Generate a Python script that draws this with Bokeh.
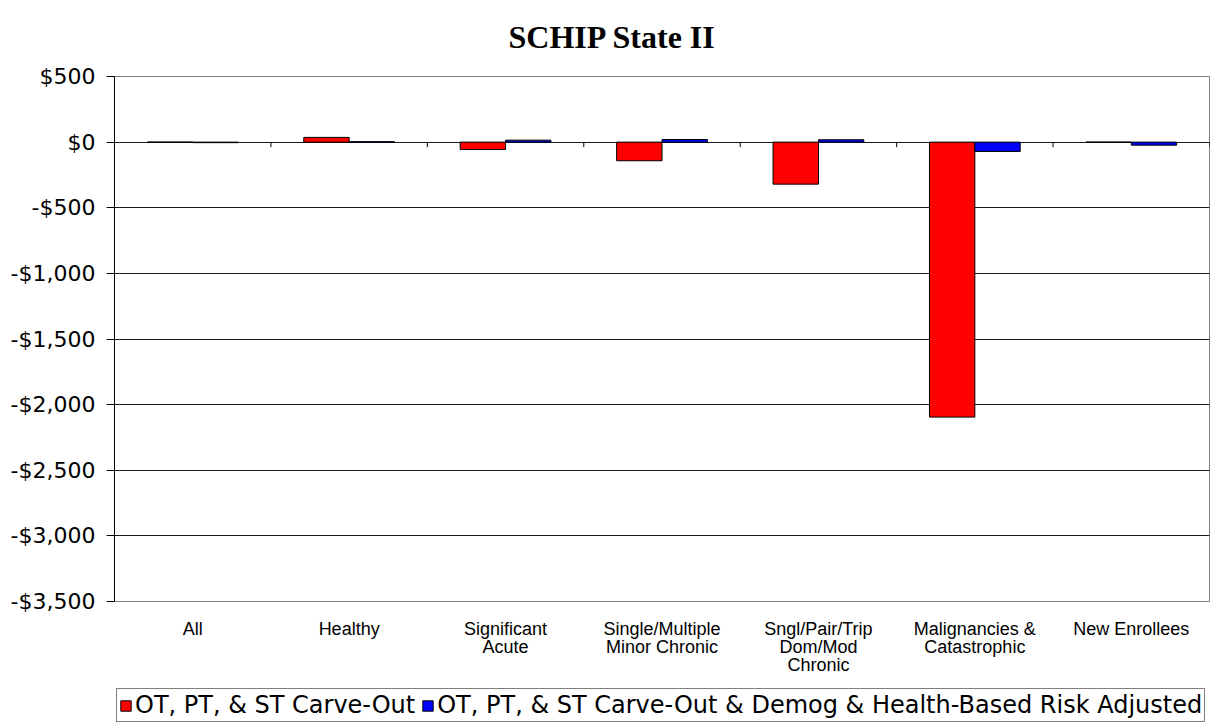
from bokeh.plotting import figure
from bokeh.layouts import column
from bokeh.core.properties import value
from bokeh.models import (Range1d, FixedTicker, Legend, LegendItem, ColumnDataSource)
from bokeh.transform import dodge
from bokeh.embed import file_html
from bokeh.resources import INLINE

# ---- data ----
categories = ["All", "Healthy", "Significant\nAcute", "Single/Multiple\nMinor Chronic",
              "Sngl/Pair/Trip\nDom/Mod\nChronic", "Malignancies &\nCatastrophic", "New Enrollees"]
carve_out = [0, 36, -56, -142, -320, -2095, 0]
risk_adjusted = [-4, 3, 15, 20, 18, -71, -23]
series_names = ["OT, PT, & ST Carve-Out",
                "OT, PT, & ST Carve-Out & Demog & Health-Based Risk Adjusted"]
y_ticks = [500, 0, -500, -1000, -1500, -2000, -2500, -3000, -3500]
y_tick_labels = ["$500", "$0", "-$500", "-$1,000", "-$1,500", "-$2,000",
                 "-$2,500", "-$3,000", "-$3,500"]
title_text = "SCHIP State II"

RED, BLUE = "#FF0000", "#0000FF"
W = 1210
HEAD_H, LEG_H = 58, 39
MB_L, MB_R, MB_T, MB_B = 114, 1, 18, 85
FRAME_H = 525
H = MB_T + FRAME_H + MB_B
n = len(categories)
centers = [i + 0.5 for i in range(n)]
src = ColumnDataSource(dict(x=centers, a=carve_out, b=risk_adjusted))

# ---- header strip with the title ----
p0 = figure(width=W, height=HEAD_H, x_range=Range1d(0, W - MB_L - MB_R),
            y_range=Range1d(0, HEAD_H), output_backend="svg", toolbar_location=None,
            x_axis_location=None, y_axis_location=None,
            min_border=0, outline_line_color=None)
p0.grid.visible = False
title_center_px = 612 - MB_L
p0.text(x=[title_center_px], y=[HEAD_H - 36], text=[title_text],
        text_font=value("Liberation Serif"), text_font_style="bold",
        text_font_size="32px", text_align="center", text_baseline="alphabetic",
        text_color="black")

# ---- main chart ----
ymin, ymax = min(y_ticks), max(y_ticks)
p = figure(width=W, height=H, x_range=Range1d(0, n),
           y_range=Range1d(ymin, ymax),
           output_backend="svg", toolbar_location=None,
           min_border_left=MB_L, min_border_right=MB_R, min_border_top=MB_T,
           min_border_bottom=MB_B)

p.ygrid.ticker = FixedTicker(ticks=y_ticks)
p.ygrid.grid_line_color = "#1a1a1a"
p.xgrid.grid_line_color = None
p.outline_line_color = "#808080"

bw = 0.29
p.vbar(x=dodge("x", -bw / 2), top="a", bottom=0, width=bw,
       source=src, fill_color=RED, line_color="black", line_width=1)
p.vbar(x=dodge("x", bw / 2), top="b", bottom=0, width=bw,
       source=src, fill_color=BLUE, line_color="black", line_width=1)

# category-axis ticks at y = 0, between categories, pointing down
tick_len = 5 * (ymax - ymin) / FRAME_H
bounds = list(range(n + 1))
p.segment(x0=bounds, x1=bounds, y0=[0] * len(bounds), y1=[-tick_len] * len(bounds),
          line_color="black", line_width=1)

# y axis
yax = p.yaxis[0]
yax.ticker = FixedTicker(ticks=y_ticks)
yax.major_label_overrides = {t: l for t, l in zip(y_ticks, y_tick_labels)}
yax.major_tick_out = 8
yax.major_tick_in = 0
yax.minor_tick_line_color = None
yax.axis_line_color = "black"
yax.major_tick_line_color = "black"
yax.major_label_text_font = "DejaVu Sans"
yax.major_label_text_font_size = "22px"
yax.major_label_text_color = "black"
yax.major_label_standoff = 11

# category labels at the bottom
xax = p.xaxis[0]
xax.ticker = FixedTicker(ticks=centers)
xax.major_label_overrides = {c: l for c, l in zip(centers, categories)}
xax.axis_line_color = None
xax.major_tick_line_color = None
xax.minor_tick_line_color = None
xax.major_label_text_font = "Liberation Sans"
xax.major_label_text_font_size = "18px"
xax.major_label_text_line_height = 0.9
xax.major_label_text_color = "black"
xax.major_label_standoff = 11

# ---- legend strip below the chart ----
p2 = figure(width=W, height=LEG_H, x_range=Range1d(0, 1), y_range=Range1d(0, 1),
            output_backend="svg", toolbar_location=None,
            x_axis_location=None, y_axis_location=None,
            min_border=0, outline_line_color=None)
p2.grid.visible = False
offscreen = ColumnDataSource(dict(x=[-5.0], top=[0.0]))
l1 = p2.vbar(x="x", top="top", width=0.1, source=offscreen,
             fill_color=RED, line_color="black", line_width=1)
l2 = p2.vbar(x="x", top="top", width=0.1, source=offscreen,
             fill_color=BLUE, line_color="black", line_width=1)
legend = Legend(items=[LegendItem(label=series_names[0], renderers=[l1]),
                       LegendItem(label=series_names[1], renderers=[l2])],
                orientation="horizontal", location=(2, 3),
                border_line_color="black", border_line_width=1,
                padding=2, spacing=6, glyph_width=13, glyph_height=13,
                label_standoff=3, margin=0,
                label_text_font="DejaVu Sans", label_text_font_size="24px",
                label_text_color="black")
p2.add_layout(legend, "center")

layout = column(p0, p, p2, spacing=0)
open("out.html", "w").write(file_html(layout, INLINE))
